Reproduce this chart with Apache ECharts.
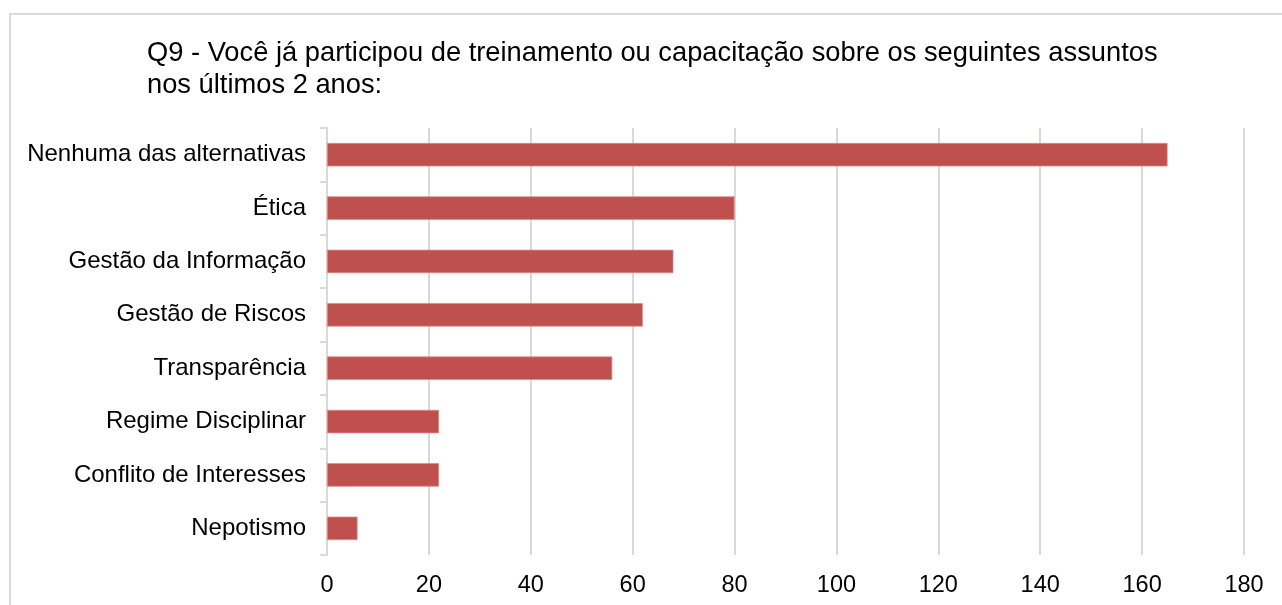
<!DOCTYPE html>
<html>
<head>
<meta charset="utf-8">
<script src="https://cdn.jsdelivr.net/npm/echarts@6/dist/echarts.min.js"></script>
<style>
html,body{margin:0;padding:0;background:#fff;}
#chart{width:1282px;height:605px;}
</style>
</head>
<body>
<div id="chart"></div>
<script>
const titleText = 'Q9 - Você já participou de treinamento ou capacitação sobre os seguintes assuntos\nnos últimos 2 anos:';
const categories = ['Nenhuma das alternativas', 'Ética', 'Gestão da Informação', 'Gestão de Riscos', 'Transparência', 'Regime Disciplinar', 'Conflito de Interesses', 'Nepotismo'];
const values = [165, 80, 68, 62, 56, 22, 22, 6];
const xTicks = { min: 0, max: 180, interval: 20 };

const chart = echarts.init(document.getElementById('chart'), null, { renderer: 'canvas' });
const FONT = 'Liberation Sans, Arial, sans-serif';
chart.setOption({
  animation: false,
  backgroundColor: '#ffffff',
  graphic: [{
    type: 'rect',
    shape: { x: 10, y: 14, width: 1400, height: 800 },
    style: { fill: 'none', stroke: '#d9d9d9', lineWidth: 2 },
    silent: true,
    z: -10
  }],
  title: {
    text: titleText,
    left: 147,
    top: 37,
    padding: 0,
    textStyle: { fontFamily: FONT, fontSize: 27.3, fontWeight: 'normal', color: '#000', lineHeight: 32 }
  },
  grid: { left: 327, right: 38, top: 128, bottom: 50, containLabel: false },
  xAxis: {
    type: 'value',
    min: xTicks.min, max: xTicks.max, interval: xTicks.interval,
    axisLine: { show: false },
    axisTick: { show: false },
    splitLine: { show: true, lineStyle: { color: '#d9d9d9', width: 2 } },
    axisLabel: { fontFamily: FONT, fontSize: 23.5, color: '#000', margin: 19 }
  },
  yAxis: {
    type: 'category',
    data: categories,
    inverse: true,
    axisLine: { show: true, lineStyle: { color: '#d9d9d9', width: 2 } },
    axisTick: { show: true, length: 7, lineStyle: { color: '#d9d9d9', width: 2 } },
    axisLabel: { fontFamily: FONT, fontSize: 24, color: '#000', margin: 21 }
  },
  series: [{
    type: 'bar',
    data: values,
    barWidth: '44%',
    itemStyle: { color: '#c0504d', borderColor: '#d98b89', borderWidth: 0.8 },
    z: 3
  }]
});
</script>
</body>
</html>
